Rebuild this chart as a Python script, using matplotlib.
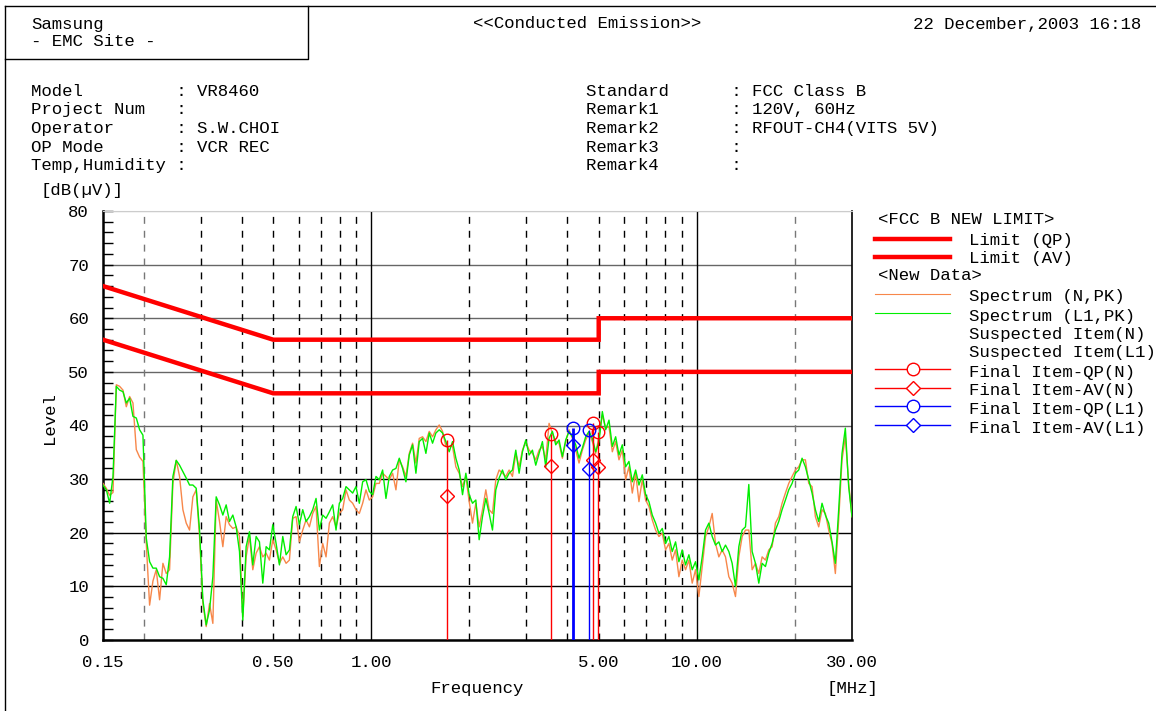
import numpy as np
import matplotlib.pyplot as plt

# measured spectrum (dBuV), sampled on a log-spaced sweep from 0.15 to 30 MHz
level_l1 = [
    28.9, 28.0, 25.5, 30.5, 47.3, 46.6, 46.3, 44.2, 45.1, 41.7, 41.4, 39.2, 38.2, 19.0, 14.6, 13.4,
    13.4, 11.8, 11.5, 10.3, 15.5, 30.5, 33.5, 32.6, 31.4, 30.2, 28.9, 28.9, 28.3, 20.5, 7.5, 2.8,
    5.6, 11.8, 26.7, 25.2, 23.3, 25.2, 22.1, 23.3, 21.1, 16.5, 3.7, 17.4, 20.2, 14.0, 19.3, 18.3,
    10.6, 17.4, 16.8, 21.5, 18.0, 14.0, 19.3, 15.9, 16.8, 23.0, 24.9, 21.5, 24.3, 22.1, 23.0, 24.3,
    26.4, 20.5, 23.3, 22.7, 23.9, 25.2, 20.5, 25.5, 26.4, 28.6, 28.0, 27.4, 28.6, 25.5, 29.5, 29.9,
    27.7, 27.1, 30.5, 29.9, 31.7, 26.4, 30.5, 31.7, 32.0, 33.9, 32.0, 29.5, 34.5,
    36.4, 31.1, 37.0, 37.6, 34.8, 38.6, 36.7, 38.6, 39.2, 38.6, 37.0, 35.1, 37.0, 33.9, 31.7, 27.1,
    31.1, 27.1, 25.5, 26.1, 18.7, 23.0, 26.4, 23.6, 20.5, 28.0, 30.2, 31.7, 29.9, 31.1, 31.7, 35.4,
    31.1, 35.1, 37.3, 34.5, 35.4, 32.6, 34.8, 37.0, 32.3, 37.6, 38.9, 36.4, 37.3,
    34.2, 37.3, 38.9, 37.9, 36.4, 33.9, 35.8, 37.9, 38.9, 37.6, 35.1, 37.0, 42.6, 39.2, 41.0, 36.1,
    37.9, 34.5, 36.4, 32.3, 33.3, 29.5, 31.7, 28.9, 30.8, 27.1, 25.8, 23.3, 21.8, 19.9, 20.8, 18.0,
    19.3, 16.5, 18.3, 14.6, 16.8, 14.0, 15.9, 13.1, 14.6, 11.2, 15.5, 20.5, 21.8,
    19.3, 17.7, 18.3, 16.5, 17.7, 16.5, 14.3, 10.0, 17.4, 20.5, 21.1, 29.0, 16.5, 14.3, 10.6, 14.3,
    13.7, 16.2, 18.0, 20.5, 22.1, 24.3, 26.1, 28.0, 29.2, 31.1, 31.7, 33.9, 32.3, 29.9, 27.4, 24.3,
    22.1, 25.5, 23.3, 21.8, 18.3, 14.3, 24.3, 34.8, 39.5, 28.6, 23.0,
]
level_n = [
    29.2, 28.3, 27.0, 27.5, 47.6, 47.3, 46.6, 43.5, 45.4, 44.2, 35.5, 34.1, 33.3, 18.0, 6.5, 11.0,
    13.1, 7.5, 14.3, 12.4, 13.1, 29.2, 33.5, 30.5, 24.3, 21.8, 20.5, 26.7, 28.0, 19.3, 6.8, 2.5,
    6.8, 3.1, 26.1, 22.1, 17.4, 23.0, 21.5, 20.8, 21.1, 19.3, 4.4, 15.5, 19.3, 13.1, 16.2, 17.4,
    15.5, 16.2, 14.9, 18.7, 16.8, 14.3, 15.5, 14.3, 14.9, 22.7, 23.0, 18.3, 20.5, 22.4, 21.1, 23.6,
    24.9, 13.7, 18.0, 15.5, 21.8, 23.0, 21.1, 23.6, 24.3, 28.0, 26.1, 25.5, 24.3, 23.6, 25.5, 28.0,
    26.1, 26.7, 29.2, 29.2, 31.1, 30.5, 29.9, 31.1, 28.0, 33.6, 32.3, 30.5, 34.8,
    36.7, 33.0, 37.6, 37.9, 37.0, 38.9, 37.9, 39.2, 40.1, 38.9, 36.1, 36.1, 36.1, 32.3, 31.1, 28.6,
    30.5, 25.8, 21.8, 25.5, 21.1, 24.3, 28.0, 24.3, 23.6, 29.9, 31.7, 31.1, 30.5, 31.7, 30.5, 34.8,
    32.3, 35.4, 37.0, 35.4, 34.8, 33.6, 35.4, 36.1, 33.6, 40.4, 38.6, 37.0, 36.7,
    33.9, 37.0, 39.2, 37.6, 35.4, 33.0, 35.4, 37.3, 38.6, 37.0, 34.8, 37.9, 42.0, 39.5, 39.8, 35.1,
    37.0, 33.6, 35.4, 29.9, 32.3, 27.4, 31.1, 25.8, 29.9, 26.1, 24.9, 22.4, 20.5, 19.3, 19.9, 16.8,
    18.0, 14.9, 16.8, 11.8, 14.9, 13.1, 14.9, 10.6, 13.1, 8.1, 13.7, 19.3, 21.1,
    23.6, 18.0, 15.5, 16.8, 15.5, 11.8, 10.6, 8.1, 15.5, 19.3, 20.5, 20.5, 13.1, 14.3, 12.4, 15.5,
    14.9, 16.8, 17.4, 21.8, 23.0, 25.5, 27.4, 29.2, 30.5, 31.7, 32.3, 33.6, 33.6, 29.2, 28.6, 23.0,
    21.1, 24.3, 23.6, 20.5, 18.0, 12.4, 22.4, 33.6, 37.9, 29.2, 23.0,
]
freq = np.geomspace(0.15, 30, len(level_l1))

# FCC class B limits
limit_freq = [0.15, 0.5, 5.0, 5.0, 30.0]
limit_qp = [66, 56, 56, 60, 60]
limit_av = [56, 46, 46, 50, 50]

# final measurements
final_n_freq = [1.71, 3.58, 4.81, 4.98]
final_n_qp = [37.3, 38.4, 40.4, 38.7]
final_n_av = [26.9, 32.5, 33.5, 32.3]
final_l1_freq = [4.16, 4.68]
final_l1_qp = [39.5, 39.2]
final_l1_av = [36.4, 31.8]

hgrid = [10, 20, 30, 40, 50, 60, 70]
vgrid_dash = [0.2, 0.3, 0.4, 0.5, 0.6, 0.7, 0.8, 0.9, 2, 3, 4, 5, 6, 7, 8, 9, 20]
xtick_vals = [0.15, 0.5, 1.0, 5.0, 10.0, 30.0]
xtick_labels = ["0.15", "0.50", "1.00", "5.00", "10.00", "30.00"]

ORANGE = "#f7874a"
GREEN = "#00ee00"
RED = "#ff0000"
BLUE = "#0000ff"
MONO = "Liberation Mono"
FS = 12.5

plt.rcParams["font.family"] = [MONO, "DejaVu Sans Mono"]

fig = plt.figure(figsize=(11.56, 7.11), dpi=100)
W, H = 1156, 711
ax = fig.add_axes([103 / W, 1 - 640 / H, 749 / W, 429 / H])

ax.set_xscale("log")
ax.set_xlim(0.15, 30)
ax.set_ylim(0, 80)

for v in hgrid:
    ax.axhline(v, color="#666666" if v >= 40 else "black", lw=1, zorder=1)
ax.axhline(80, color="#cccccc", lw=1, zorder=1)
for f in vgrid_dash:
    ax.axvline(f, color="#777777" if f in (0.2, 20) else "black", lw=1,
               ls=(0, (5, 5)), zorder=1)
ax.axvline(1, color="black", lw=1, zorder=1)
ax.axvline(10, color="black", lw=1, zorder=1)

ax.plot(limit_freq, limit_qp, color=RED, lw=3.2, zorder=3, solid_joinstyle="miter")
ax.plot(limit_freq, limit_av, color=RED, lw=3.2, zorder=3, solid_joinstyle="miter")

ax.plot(freq, level_n, color=ORANGE, lw=1, zorder=4)
ax.plot(freq, level_l1, color=GREEN, lw=1, zorder=5)

ax.vlines(final_n_freq, 0, final_n_qp, color=RED, lw=1, zorder=6)
ax.vlines(final_l1_freq, 0, final_l1_qp, color=BLUE, lw=[2, 1], zorder=6)
ax.plot(final_n_freq, final_n_qp, "o", ms=9, mfc="none", mec=RED, mew=1, zorder=7)
ax.plot(final_n_freq, final_n_av, "D", ms=7, mfc="none", mec=RED, mew=1, zorder=7)
ax.plot(final_l1_freq, final_l1_qp, "o", ms=9, mfc="none", mec=BLUE, mew=1, zorder=7)
ax.plot(final_l1_freq, final_l1_av, "D", ms=7, mfc="none", mec=BLUE, mew=1, zorder=7)

ax.set_xticks(xtick_vals)
ax.set_xticklabels(xtick_labels, fontsize=FS)
ax.xaxis.set_minor_locator(plt.NullLocator())
ax.tick_params(axis="x", which="major", length=0, pad=11)
ax.set_yticks(range(0, 81, 10))
ax.set_yticks(range(0, 81, 2), minor=True)
ax.tick_params(axis="y", which="both", direction="in", length=7, width=1, labelsize=FS, pad=10)
for s in ("left", "bottom"):
    ax.spines[s].set_linewidth(1.8)
ax.spines["right"].set_linewidth(1.2)
ax.spines["top"].set_color("#cccccc")

# page overlay in pixel units
ov = fig.add_axes([0, 0, 1, 1], zorder=10)
ov.set_xlim(0, W)
ov.set_ylim(H, 0)
ov.axis("off")
ov.patch.set_visible(False)

ov.plot([5, W], [6, 6], color="black", lw=1)
ov.plot([5, 5], [6, H], color="black", lw=1)
ov.plot([5, 308, 308], [59, 59, 6], color="black", lw=1)

def txt(x, y, s, ha="left", **kw):
    ov.text(x, y, s, ha=ha, va="center", fontsize=FS, family=MONO, **kw)

txt(31, 24, "Samsung")
txt(31, 42, "- EMC Site -")
txt(587, 24, "<<Conducted Emission>>", ha="center")
txt(1141, 24, "22 December,2003 16:18", ha="right")

rows_left = ["Model         : VR8460", "Project Num   :", "Operator      : S.W.CHOI",
             "OP Mode       : VCR REC", "Temp,Humidity :"]
rows_right = ["Standard      : FCC Class B", "Remark1       : 120V, 60Hz",
              "Remark2       : RFOUT-CH4(VITS 5V)", "Remark3       :", "Remark4       :"]
for k in range(5):
    y = 91 + k * 18.7
    txt(31, y, rows_left[k])
    txt(586, y, rows_right[k])

txt(41, 191, "[dB(\u00b5V)]")
txt(42, 418, "Level", rotation=90)
txt(477, 688, "Frequency", ha="center")
txt(878, 688, "[MHz]", ha="right")

# legend
lx0, lx1, lxm, tx = 875, 950, 913, 969
txt(878, 219, "<FCC B NEW LIMIT>")
ov.plot([lx0, lx1], [239, 239], color=RED, lw=3.2)
txt(tx, 241, "Limit (QP)")
ov.plot([lx0, lx1], [257, 257], color=RED, lw=3.2)
txt(tx, 259, "Limit (AV)")
txt(878, 276, "<New Data>")
ov.plot([lx0, lx1], [294, 294], color=ORANGE, lw=0.8)
txt(tx, 297, "Spectrum (N,PK)")
ov.plot([lx0, lx1], [313, 313], color=GREEN, lw=0.8)
txt(tx, 316, "Spectrum (L1,PK)")
txt(tx, 334, "Suspected Item(N)")
txt(tx, 353, "Suspected Item(L1)")
legend_items = [("Final Item-QP(N)", RED, "o"), ("Final Item-AV(N)", RED, "D"),
                ("Final Item-QP(L1)", BLUE, "o"), ("Final Item-AV(L1)", BLUE, "D")]
for k, (lab, c, m) in enumerate(legend_items):
    y = 369 + k * 18.7
    ov.plot([lx0, lx1], [y, y], color=c, lw=1)
    ov.plot([lxm], [y], m, ms=9 if m == "o" else 7, mfc="white", mec=c, mew=1)
    txt(tx, y + 3, lab)

fig.savefig("out.png", dpi=100)
